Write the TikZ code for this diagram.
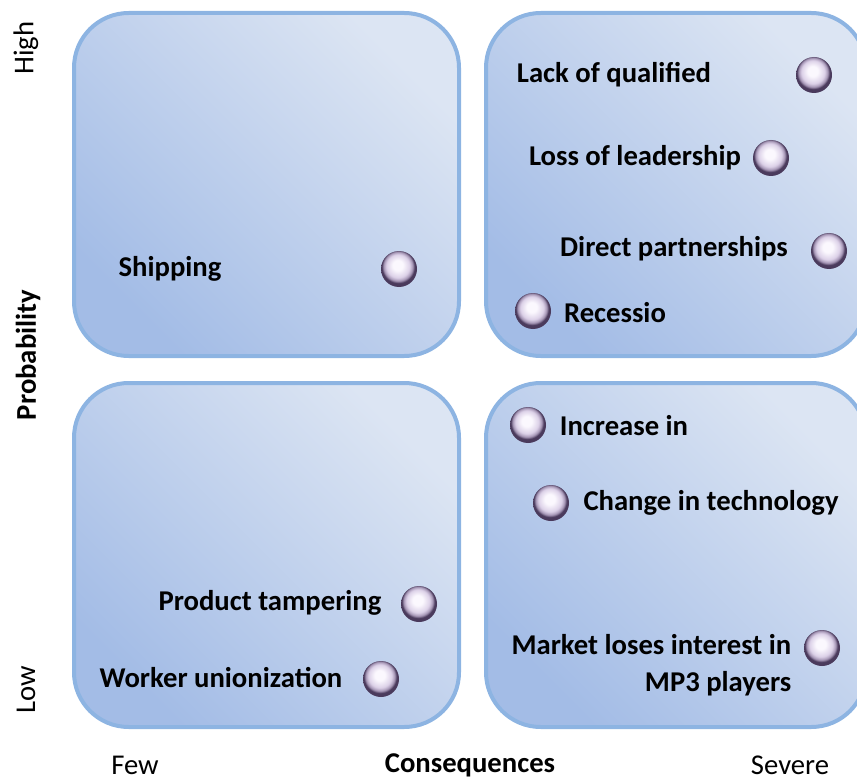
\documentclass[tikz,border=0pt]{standalone}
\usepackage{fontspec}
\setmainfont{Carlito}
\definecolor{boxedge}{HTML}{8DB4E2}
\definecolor{boxlight}{HTML}{DCE5F3}
\definecolor{boxdark}{HTML}{A3BCE6}
\definecolor{pearlhi}{HTML}{FBF8FE}
\definecolor{pearlmid}{HTML}{DCD1E8}
\definecolor{pearllow}{HTML}{A899B8}
\definecolor{pearlrim}{HTML}{4A3A5C}

% glossy marker, light body with a dark rim
\pgfdeclareradialshading{pearlball}{\pgfqpoint{-2bp}{6bp}}{%
  color(0bp)=(pearlhi); color(7bp)=(pearlhi);
  color(16bp)=(pearlmid); color(20bp)=(pearllow);
  color(23bp)=(pearlrim); color(25bp)=(pearlrim); color(50bp)=(pearlrim)}

\tikzset{
  quadrant/.style={draw=boxedge, line width=3pt, rounded corners=41pt,
    top color=boxlight, bottom color=boxdark, shading angle=-45},
  riskball/.style={circle, inner sep=0pt, minimum size=27pt,
    shading=pearlball},
  risk/.style={font=\fontsize{21.5}{28}\selectfont\bfseries},
  axislabel/.style={font=\fontsize{21.5}{26}\selectfont}
}

\begin{document}
\begin{tikzpicture}[x=0.75pt,y=-0.75pt]
  \useasboundingbox (0,0) rectangle (857,781);
  % the four quadrants
  \path[quadrant] (74,13) rectangle (459,356);
  \path[quadrant] (486,13) rectangle (866,356);
  \path[quadrant] (74,383) rectangle (459,727);
  \path[quadrant] (486,383) rectangle (866,727);
  % high probability, few consequences
  \node[risk] (shipping) at (170,269) {Shipping};
  \node[riskball] (shippingb) at (399,269) {};
  % high probability, severe consequences
  \node[risk] (qualified) at (614,75) {Lack of qualified};
  \node[riskball] (qualifiedb) at (814,75) {};
  \node[risk] (leadership) at (635,158) {Loss of leadership};
  \node[riskball] (leadershipb) at (771,158) {};
  \node[risk] (partners) at (674,249) {Direct partnerships};
  \node[riskball] (partnersb) at (829,251) {};
  \node[risk] (recession) at (615,313) {Recessio};
  \node[riskball] (recessionb) at (533,311) {};
  % low probability, few consequences
  \node[risk] (tamper) at (270,603) {Product tampering};
  \node[riskball] (tamperb) at (419,604) {};
  \node[risk] (union) at (221,678) {Worker unionization};
  \node[riskball] (unionb) at (381,679) {};
  % low probability, severe consequences
  \node[risk] (increase) at (624,426) {Increase in};
  \node[riskball] (increaseb) at (528,425) {};
  \node[risk] (techchange) at (711,503) {Change in technology};
  \node[riskball] (techchangeb) at (551,503) {};
  \node[risk, align=right, anchor=east] (market) at (796,665)
    {Market loses interest in\\MP3 players};
  \node[riskball] (marketb) at (822,648) {};
  % axes
  \node[axislabel, rotate=90] (high) at (26,48) {High};
  \node[axislabel, rotate=90, font=\fontsize{21.5}{26}\selectfont\bfseries] (prob) at (28,355) {Probability};
  \node[axislabel, rotate=90] (low) at (26,690) {Low};
  \node[axislabel] (few) at (135,765) {Few};
  \node[axislabel, font=\fontsize{21.5}{26}\selectfont\bfseries] (conseq) at (470,765) {Consequences};
  \node[axislabel] (severe) at (790,765) {Severe};
\end{tikzpicture}
\end{document}
